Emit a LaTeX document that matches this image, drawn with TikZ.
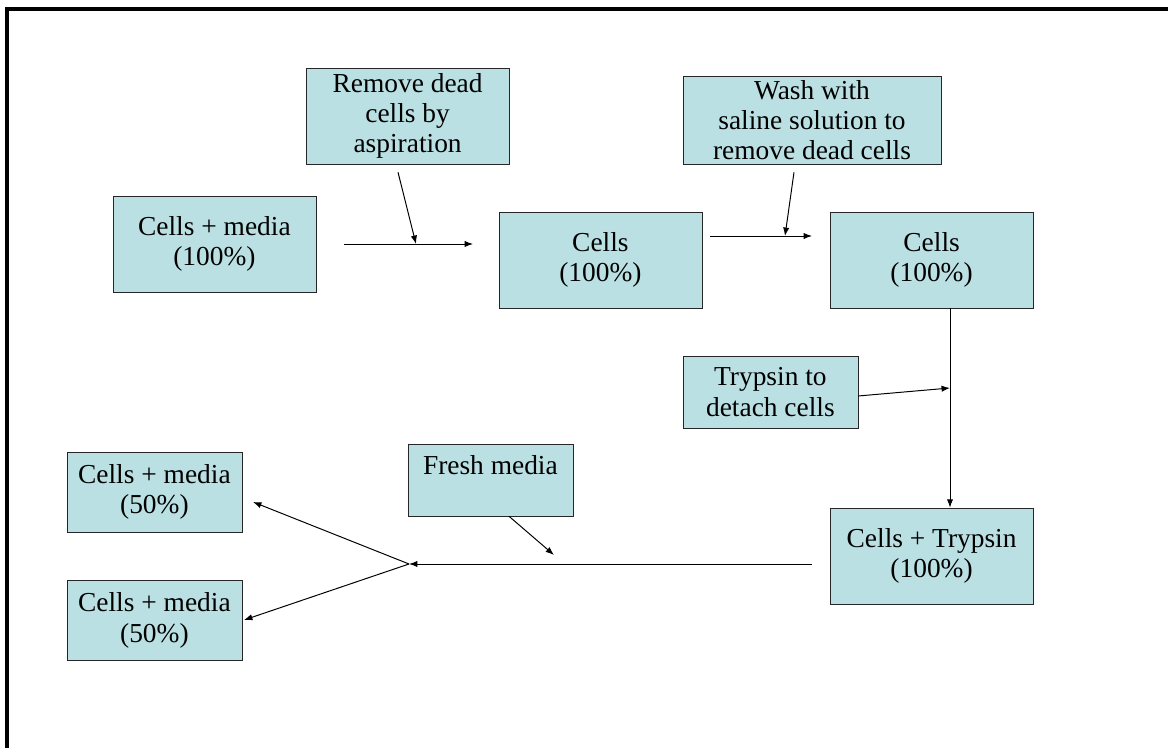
\documentclass[tikz,border=0pt]{standalone}
\usepackage{fontspec}
\setmainfont{Liberation Serif}
\usepackage{xcolor}
\usepackage{tikz}
\usetikzlibrary{arrows.meta, positioning, calc}
\definecolor{boxfill}{RGB}{187,224,227}

\begin{document}
\begin{tikzpicture}[>={Latex[length=6pt,width=4.5pt]},
    box/.style={draw=black!85, fill=boxfill, align=center, inner sep=0pt,
      font=\fontsize{19.5}{21.5}\selectfont,
      minimum width=5.075cm, minimum height=2.4cm},
    flow/.style={->, line width=0.7pt}]

  \useasboundingbox (0,0) rectangle (29.2,18.7);

  % frame (top and left only)
  \draw[line width=2.6pt] (0.175,0) -- (0.175,18.475) -- (29.2,18.475);

  % top row
  \node[box] (start) at (5.36, 12.6) {Cells + media\\(100\%)};
  \node[box] (aspir) at (10.19, 15.8) {Remove dead\\cells by\\aspiration};
  \node[box] (cells1) at (15.01, 12.2) {Cells\\(100\%)};
  \node[box, minimum width=6.45cm, minimum height=2.2cm] (wash) at (20.3, 15.7)
    {Wash with\\saline solution to\\remove dead cells};
  \node[box] (cells2) at (23.29, 12.2) {Cells\\(100\%)};

  % right column
  \node[box, minimum width=4.375cm, minimum height=1.8cm] (tryp) at (19.26, 8.9)
    {Trypsin to\\detach cells};
  \node[box] (celltryp) at (23.29, 4.8) {Cells + Trypsin\\(100\%)};

  % bottom row
  \node[box, minimum width=4.125cm, minimum height=1.8cm] (fresh) at (12.26, 6.7)
    {Fresh media\\~};
  \node[box, minimum width=4.375cm, minimum height=2cm] (half1) at (3.86, 6.4)
    {Cells + media\\(50\%)};
  \node[box, minimum width=4.375cm, minimum height=2cm] (half2) at (3.86, 3.19)
    {Cells + media\\(50\%)};

  % free ends of the connectors
  \coordinate (s1) at (8.6, 12.6);
  \coordinate (e1) at (11.825, 12.6);
  \coordinate (m1) at (10.4, 12.6);
  \coordinate (s2) at (17.75, 12.8);
  \coordinate (e2) at (20.3, 12.8);
  \coordinate (m2) at (19.625, 12.8);
  \coordinate (m3) at (23.75, 9.0);
  \coordinate (s4) at (20.3, 4.6);
  \coordinate (split) at (10.225, 4.6);
  \coordinate (m4) at (13.85, 4.825);
  \coordinate (e5) at (6.325, 6.15);
  \coordinate (e6) at (6.1, 3.2);

  \draw[flow] (s1) -- (e1);
  \draw[flow] ($(aspir.south)+(-0.24,-0.2)$) -- (m1);
  \draw[flow] (s2) -- (e2);
  \draw[flow] ($(wash.south)+(-0.45,-0.2)$) -- (m2);
  \draw[flow] (cells2.south -| m3) -- (celltryp.north -| m3);
  \draw[flow] ($(tryp.east)+(0,-0.1)$) -- (m3);
  \draw[flow] (s4) -- (split);
  \draw[flow] ($(fresh.south)+(0.465,0)$) -- (m4);
  \draw[flow] (split) -- (e5);
  \draw[flow] (split) -- (e6);
\end{tikzpicture}
\end{document}
